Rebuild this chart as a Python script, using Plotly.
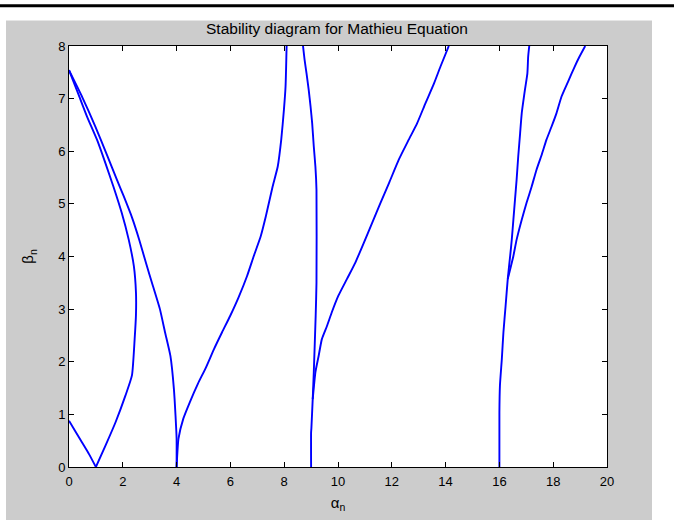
import plotly.graph_objects as go

# ---- data (alpha_n on x, beta_n on y) ----
b1_alpha = [0.0, 0.2, 0.48, 0.75, 1.0]
b1_beta = [0.88, 0.71, 0.47, 0.24, 0.0]

a1_alpha = [1.0, 1.36, 1.73, 2.10, 2.34, 2.44, 2.49, 2.49, 2.41, 2.22, 1.96, 1.65, 1.35, 1.04, 0.67, 0.36, 0.0]
a1_beta = [0.0, 0.41, 0.85, 1.36, 1.74, 2.43, 2.9, 3.31, 3.82, 4.32, 4.83, 5.33, 5.78, 6.22, 6.66, 7.07, 7.54]

b2_alpha = [0.0, 0.5, 0.98, 1.41, 1.78, 2.03, 2.35, 2.61, 2.86, 3.12, 3.38, 3.57, 3.77, 3.90, 3.96, 4.0, 4.0]
b2_beta = [7.54, 7.02, 6.47, 5.93, 5.46, 5.15, 4.73, 4.32, 3.88, 3.44, 3.00, 2.56, 2.11, 1.48, 0.98, 0.54, 0.0]

a2_alpha = [4.0, 4.07, 4.25, 4.49, 4.79, 5.09, 5.39, 5.69, 5.99, 6.30, 6.62, 6.87, 7.13, 7.32, 7.57, 7.76, 7.89, 7.99, 8.05, 8.09]
a2_beta = [0.0, 0.54, 0.92, 1.23, 1.58, 1.89, 2.24, 2.56, 2.87, 3.22, 3.63, 4.01, 4.39, 4.77, 5.33, 5.71, 6.22, 6.79, 7.23, 8.0]

b3_alpha = [9.0, 9.0, 9.01, 9.06, 9.10, 9.17, 9.20, 9.20, 9.16, 9.10, 9.04, 8.98, 8.91, 8.83, 8.76, 8.70]
b3_beta = [0.0, 0.66, 0.73, 1.29, 1.80, 2.87, 3.5, 5.27, 5.71, 6.09, 6.53, 6.85, 7.17, 7.48, 7.73, 8.0]

a3_alpha = [9.06, 9.16, 9.28, 9.40, 9.59, 9.77, 10.01, 10.33, 10.64, 10.96, 11.27, 11.58, 11.90, 12.26, 12.63, 12.94, 13.25, 13.57, 13.81, 14.12]
a3_beta = [1.29, 1.80, 2.11, 2.43, 2.68, 2.94, 3.25, 3.57, 3.88, 4.26, 4.64, 5.02, 5.40, 5.84, 6.22, 6.53, 6.91, 7.29, 7.61, 8.0]

b4_alpha = [16.0, 16.0, 16.02, 16.09, 16.15, 16.23, 16.31, 16.40, 16.46, 16.52, 16.58, 16.64, 16.70, 16.77, 16.83, 16.95, 17.04, 17.07, 17.11]
b4_beta = [0.0, 1.04, 1.55, 2.05, 2.56, 3.06, 3.57, 4.01, 4.32, 4.70, 5.08, 5.46, 5.90, 6.34, 6.72, 7.17, 7.48, 7.80, 8.0]

a4_alpha = [16.31, 16.52, 16.64, 16.83, 17.01, 17.20, 17.38, 17.57, 17.75, 17.94, 18.12, 18.31, 18.55, 18.80, 18.98, 19.19]
a4_beta = [3.57, 4.01, 4.32, 4.70, 5.02, 5.33, 5.65, 5.93, 6.22, 6.47, 6.72, 7.04, 7.32, 7.61, 7.80, 8.0]

x_ticks = [0, 2, 4, 6, 8, 10, 12, 14, 16, 18, 20]
y_ticks = [0, 1, 2, 3, 4, 5, 6, 7, 8]

title_text = "Stability diagram for Mathieu Equation"
x_title = "α<sub>n</sub>"
y_title = "β<sub>n</sub>"

curves = [
    (b1_alpha, b1_beta), (a1_alpha, a1_beta), (b2_alpha, b2_beta), (a2_alpha, a2_beta),
    (b3_alpha, b3_beta), (a3_alpha, a3_beta), (b4_alpha, b4_beta), (a4_alpha, a4_beta),
]

fig = go.Figure()
for xs, ys in curves:
    fig.add_trace(go.Scatter(x=xs, y=ys, mode="lines",
                             line=dict(color="#0000FF", width=1.9, shape="spline", smoothing=0.5),
                             showlegend=False, hoverinfo="skip"))

W, H = 674, 520
L, R, T, B = 69, 67, 46, 51
PW, PH = W - L - R, H - T - B


def xp(px):
    return (px - L) / PW


def yp(py):
    return (H - B - py) / PH


GRAY = "#CCCCCC"
shapes = [
    dict(type="rect", xref="paper", yref="paper", x0=xp(-10), x1=xp(6), y0=yp(530), y1=yp(-10),
         fillcolor="white", line=dict(width=0), layer="above"),
    dict(type="rect", xref="paper", yref="paper", x0=xp(652), x1=xp(690), y0=yp(530), y1=yp(-10),
         fillcolor="white", line=dict(width=0), layer="above"),
    dict(type="rect", xref="paper", yref="paper", x0=xp(-10), x1=xp(690), y0=yp(20.5), y1=yp(-10),
         fillcolor="white", line=dict(width=0), layer="above"),
    dict(type="rect", xref="paper", yref="paper", x0=xp(-10), x1=xp(690), y0=yp(7), y1=yp(4),
         fillcolor="black", line=dict(width=0), layer="above"),
]

font_family = "Arial, Liberation Sans, Helvetica, sans-serif"
axis_common = dict(
    showgrid=False, zeroline=False, showline=True, linecolor="#000000", linewidth=1,
    mirror="ticks", ticks="inside", ticklen=5, tickwidth=1, tickcolor="#000000",
    tickfont=dict(family=font_family, size=13, color="#000000"),
)

fig.update_layout(
    width=W, height=H,
    margin=dict(l=L, r=R, t=T, b=B, pad=0),
    paper_bgcolor=GRAY, plot_bgcolor="white",
    shapes=shapes,
    title=dict(text=title_text, x=xp(337), xref="paper", xanchor="center",
               y=1 - 29 / H, yref="container", yanchor="middle",
               font=dict(family=font_family, size=15.5, color="#000000")),
    xaxis=dict(range=[0, 20], tickvals=x_ticks, ticktext=[str(v) for v in x_ticks],
               ticklabelstandoff=2,
               title=dict(text=x_title, font=dict(family=font_family, size=15, color="#000000"), standoff=9),
               **axis_common),
    yaxis=dict(range=[0, 8], tickvals=y_ticks, ticktext=[str(v) for v in y_ticks],
               title=dict(text=y_title, font=dict(family=font_family, size=15, color="#000000"), standoff=20),
               **axis_common),
)

fig.write_html("out.html", config={"displayModeBar": False},
               post_script="document.body.style.margin='0px';document.body.style.overflow='hidden';")
